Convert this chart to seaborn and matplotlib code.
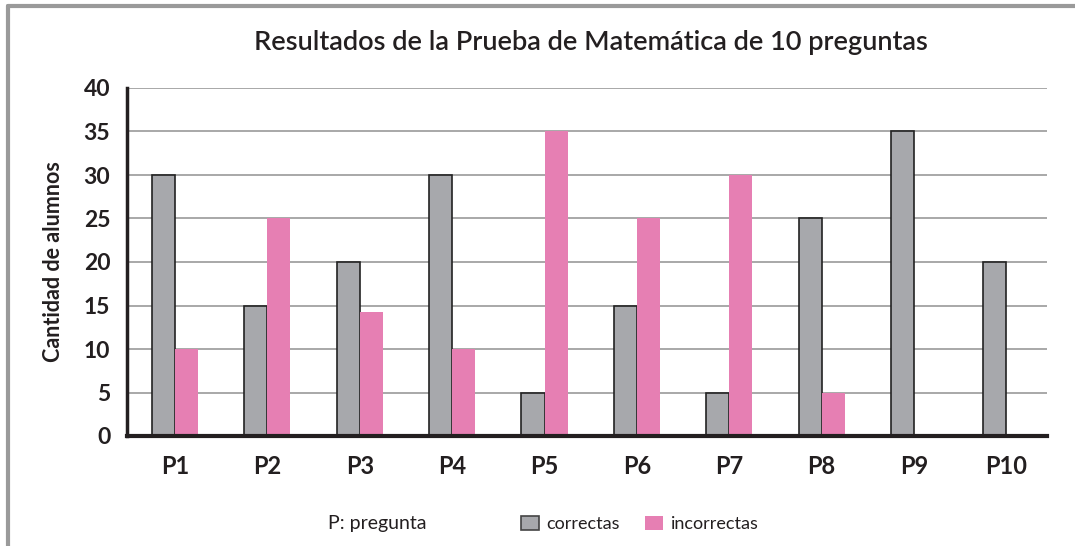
import numpy as np
import pandas as pd
import seaborn as sb
import matplotlib.pyplot as plt
from matplotlib.patches import Patch
from matplotlib.lines import Line2D

preguntas = ["P1", "P2", "P3", "P4", "P5", "P6", "P7", "P8", "P9", "P10"]
correctas = [30, 15, 20, 30, 5, 15, 5, 25, 35, 20]
incorrectas = [10, 25, 14.2, 10, 35, 25, 30, 5, 0, 0]
yticks = [0, 5, 10, 15, 20, 25, 30, 35, 40]

gris = "#a7a8ac"
rosa = "#e67fb3"

df = pd.DataFrame({"pregunta": preguntas, "correctas": correctas, "incorrectas": incorrectas})
df = df.melt(id_vars="pregunta", var_name="tipo", value_name="alumnos")

sb.set_style("white")
plt.rcParams['font.family'] = ['Lato', 'DejaVu Sans']

fig = plt.figure(figsize=(10.75, 5.46), dpi=100)
ax = fig.add_axes([127/1075, 1-436/546, 920/1075, 348/546])

sb.barplot(data=df, x="pregunta", y="alumnos", hue="tipo", palette=[gris, rosa],
           width=0.5, ax=ax, legend=False, saturation=1)
for p in ax.containers[0]:
    p.set_edgecolor("#222222")
    p.set_linewidth(1.2)
for p in ax.containers[1]:
    p.set_edgecolor("none")

ax.set_xlim(-0.52, 9.44)
ax.set_ylim(0, 40)
ax.set_yticks(yticks)
ax.yaxis.grid(True, color="#9a9a9a", linewidth=1.2)
ax.set_axisbelow(True)
ax.tick_params(axis="x", length=0, labelsize=17, pad=14)
ax.tick_params(axis="y", length=0, labelsize=16.5, pad=12)
for t in ax.get_xticklabels() + ax.get_yticklabels():
    t.set_fontweight("bold")
    t.set_color("#231f20")
ax.set_xlabel("")
ax.set_ylabel("Cantidad de alumnos", fontsize=15.5, fontweight="bold", color="#231f20", labelpad=14)
for s in ["top", "right"]:
    ax.spines[s].set_visible(False)
ax.spines["left"].set_linewidth(2.5)
ax.spines["bottom"].set_linewidth(3)
ax.spines["left"].set_color("#231f20")
ax.spines["bottom"].set_color("#231f20")

fig.text(591/1075, 1-43/546, "Resultados de la Prueba de Matemática de 10 preguntas",
         ha="center", va="center", fontsize=19.5, color="#231f20", fontweight="semibold")

fig.text(328/1075, 1-523/546, "P: pregunta", ha="left", va="center", fontsize=14, color="#231f20")
handles = [Patch(facecolor=gris, edgecolor="#444444", linewidth=1.2, label="correctas"),
           Patch(facecolor=rosa, edgecolor="none", label="incorrectas")]
fig.legend(handles=handles, loc="center left", bbox_to_anchor=(505/1075, 1-524/546), ncol=2,
           frameon=False, fontsize=13, handlelength=1.0, handleheight=0.85,
           handletextpad=0.4, columnspacing=1.4, labelcolor="#231f20")

fig.add_artist(Line2D([8/1075, 8/1075], [0, 1-6/546], color="#9a9a9a", linewidth=3))
fig.add_artist(Line2D([8/1075, 1], [1-6/546, 1-6/546], color="#9a9a9a", linewidth=3))

fig.savefig("out.png", dpi=100)
